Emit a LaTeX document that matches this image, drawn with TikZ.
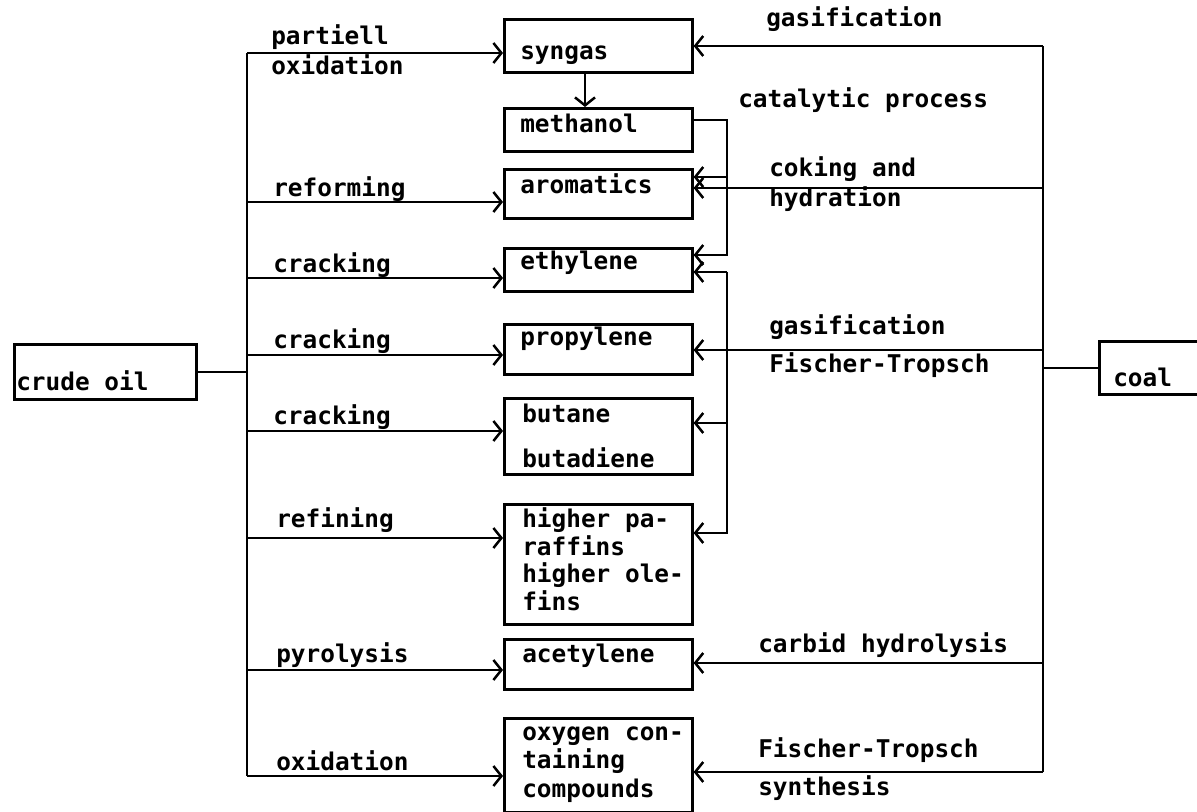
\documentclass[tikz,border=0pt]{standalone}
\usepackage{fontspec}
\setmonofont{DejaVu Sans Mono}
\usetikzlibrary{arrows.meta,positioning}

\begin{document}
\begin{tikzpicture}[x=0.5pt, y=-0.5pt, line width=1.25pt,
  flow/.style={-{Straight Barb[length=4pt,width=10pt]}},
  pbox/.style={draw, line width=1.3pt, anchor=north west, inner sep=0pt, minimum width=94pt},
  txt/.style={anchor=base west, inner sep=0pt, align=left,
    font=\ttfamily\bfseries\fontsize{12.2}{14}\selectfont}]

\useasboundingbox (0,0) rectangle (1197,812);

% ---- boxes -----------------------------------------------------------------
\node[pbox, minimum width=91pt, minimum height=27.5pt] (crude) at (13,343) {};
\node[pbox, minimum width=60pt, minimum height=26.5pt] (coal) at (1098,340) {};
\node[pbox, minimum height=26.5pt] (syn) at (503,18)  {};
\node[pbox, minimum height=21.5pt] (met) at (503,107) {};
\node[pbox, minimum height=24.5pt] (aro) at (503,168) {};
\node[pbox, minimum height=21.5pt] (eth) at (503,247) {};
\node[pbox, minimum height=25pt]   (pro) at (503,323) {};
\node[pbox, minimum height=38pt]   (but) at (503,397) {};
\node[pbox, minimum height=60pt]   (hig) at (503,503) {};
\node[pbox, minimum height=25pt]   (ace) at (503,638) {};
\node[pbox, minimum height=47pt]   (oxy) at (503,717) {};

% ---- box texts (multi-line ones sit on their last line) --------------------
\node[txt] (t-crude) at (15,390)   {crude oil};
\node[txt] (t-coal)  at (1112,386) {coal};
\node[txt] (t-syn) at (519,60)  {syngas};
\node[txt] (t-met) at (519,133) {methanol};
\node[txt] (t-aro) at (519,194) {aromatics};
\node[txt] (t-eth) at (519,270) {ethylene};
\node[txt] (t-pro) at (519,345) {propylene};
\node[txt] (t-but) at (521,467) {butane\\[8.5pt]butadiene};
\node[txt] (t-hig) at (521,610) {higher pa-\\[-0.25pt]raffins\\[-0.25pt]higher ole-\\[-0.25pt]fins};
\node[txt] (t-ace) at (521,662) {acetylene};
\node[txt] (t-oxy) at (521,797) {oxygen con-\\[0.25pt]taining\\[0.25pt]compounds};

% ---- crude oil side --------------------------------------------------------
\coordinate (ltop) at (247,53);
\coordinate (lbot) at (247,776);
\draw (ltop) -- (lbot);
\draw (crude.east) -- (crude.east -| ltop);
\foreach \y/\b in {53/syn, 202/aro, 278/eth, 355/pro, 431/but, 538/hig, 670/ace, 776/oxy}
  \draw[flow] (ltop |- 0,\y) -- (\b.west |- 0,\y);

\node[txt] (l-pox)  at (270,75)  {partiell\\[1pt]oxidation};
\node[txt] (l-ref)  at (272,197) {reforming};
\node[txt] (l-crk1) at (272,273) {cracking};
\node[txt] (l-crk2) at (272,348) {cracking};
\node[txt] (l-crk3) at (272,424) {cracking};
\node[txt] (l-rfn)  at (275,527) {refining};
\node[txt] (l-pyr)  at (275,662) {pyrolysis};
\node[txt] (l-oxd)  at (275,770) {oxidation};

% ---- coal side -------------------------------------------------------------
\coordinate (rtop) at (1043,46);
\coordinate (rbot) at (1043,772);
\draw (rtop) -- (rbot);
\draw (coal.west) -- (coal.west -| rtop);
\foreach \y/\b in {46/syn, 188/aro, 350/pro, 663/ace, 772/oxy}
  \draw[flow] (rtop |- 0,\y) -- (\b.east |- 0,\y);

\node[txt] (r-gas1) at (765,27)  {gasification};
\node[txt] (r-coke) at (768,207) {coking and\\[1pt]hydration};
\node[txt] (r-gas2) at (768,335) {gasification};
\node[txt] (r-ft1)  at (768,372) {Fischer-Tropsch};
\node[txt] (r-carb) at (757,652) {carbid hydrolysis};
\node[txt] (r-ft2)  at (757,757) {Fischer-Tropsch};
\node[txt] (r-syn)  at (757,795) {synthesis};

% ---- syngas / methanol and the catalytic process ---------------------------
\draw[flow] (syn.south -| 585,0) -- (met.north -| 585,0);
\coordinate (cat) at (727,120);
\draw[flow] (met.east |- cat) -- (cat) -- (cat |- 0,255) -- (eth.east |- 0,255);
\draw[flow] (cat |- 0,177) -- (aro.east |- 0,177);
\node[txt] (r-cat) at (737,108) {catalytic process};

\draw[flow] (cat |- 0,272) -- (eth.east |- 0,272);
\draw[flow] (cat |- 0,272) -- (cat |- 0,533) -- (hig.east |- 0,533);
\draw[flow] (cat |- 0,423) -- (but.east |- 0,423);

\end{tikzpicture}
\end{document}
